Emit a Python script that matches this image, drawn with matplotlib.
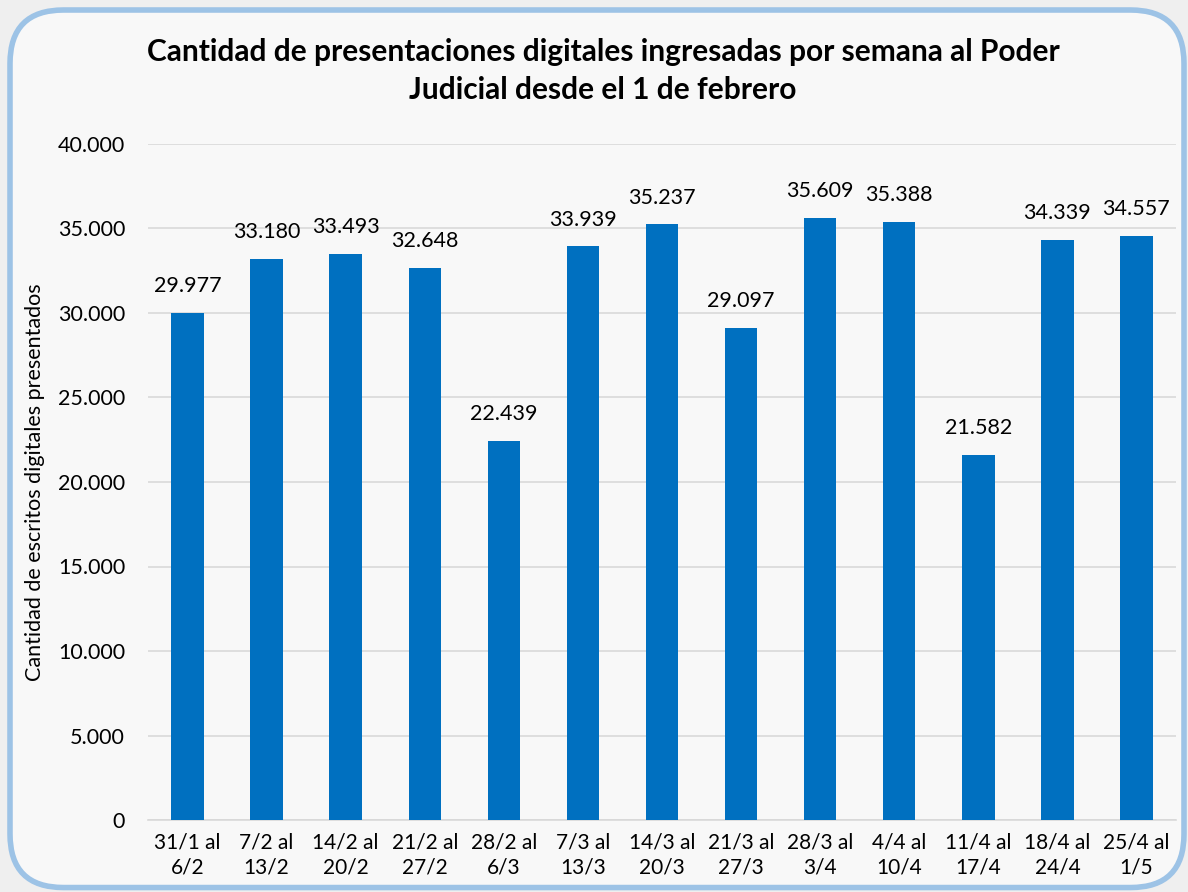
import matplotlib
matplotlib.use("Agg")
import matplotlib.pyplot as plt
from matplotlib.patches import FancyBboxPatch
from matplotlib.ticker import FuncFormatter

categories = ["31/1 al\n6/2", "7/2 al\n13/2", "14/2 al\n20/2", "21/2 al\n27/2", "28/2 al\n6/3",
              "7/3 al\n13/3", "14/3 al\n20/3", "21/3 al\n27/3", "28/3 al\n3/4", "4/4 al\n10/4",
              "11/4 al\n17/4", "18/4 al\n24/4", "25/4 al\n1/5"]
values = [29977, 33180, 33493, 32648, 22439, 33939, 35237, 29097, 35609, 35388, 21582, 34339, 34557]
yticks = [0, 5000, 10000, 15000, 20000, 25000, 30000, 35000, 40000]

plt.rcParams['font.family'] = ['Lato', 'DejaVu Sans']

def fmt(v):
    return f"{int(v):,}".replace(",", ".")

fig = plt.figure(figsize=(11.88, 8.92), dpi=100)
fig.patch.set_facecolor("#EFEFEF")

box = FancyBboxPatch((10/1188, 0.005), 1174/1188, 1 - 10/892 - 0.005,
                     boxstyle="round,pad=0,rounding_size=0.045",
                     transform=fig.transFigure, facecolor="#F8F8F8",
                     edgecolor="#9DC3E6", linewidth=4, zorder=-5,
                     mutation_aspect=1188/892)
fig.patches.append(box)

ax = fig.add_axes([148/1188, 1 - 820/892, (1176 - 148)/1188, (820 - 144)/892])
ax.set_zorder(2)
ax.set_facecolor("none")
x = list(range(len(values)))
bars = ax.bar(x, values, width=0.41, color="#0070C0", zorder=3)
for xi, v in zip(x, values):
    ax.text(xi, v + 1000, fmt(v), ha="center", va="bottom", fontsize=15.5, color="#000000")

ax.set_xlim(-0.5, len(values) - 0.5)
ax.set_ylim(0, 40000)
ax.set_yticks(yticks)
ax.yaxis.set_major_formatter(FuncFormatter(lambda v, p: fmt(v)))
ax.set_xticks(x)
ax.set_xticklabels(categories)
for lbl in ax.get_xticklabels():
    lbl.set_fontsize(15)
    lbl.set_linespacing(1.3)
ax.tick_params(axis="y", labelsize=15.5, length=0, pad=16.5)
ax.tick_params(axis="x", length=0, pad=9)
ax.grid(axis="y", color="#D9D9D9", linewidth=1.2, zorder=0)
for s in ["top", "right", "left"]:
    ax.spines[s].set_visible(False)
ax.spines["bottom"].set_color("#D9D9D9")
ax.spines["bottom"].set_linewidth(1.2)
ax.set_ylabel("Cantidad de escritos digitales presentados", fontsize=15.5, labelpad=9)

fig.text(603/1188, 1 - 71/892, "Cantidad de presentaciones digitales ingresadas por semana al Poder\nJudicial desde el 1 de febrero",
         ha="center", va="center", fontsize=21.5, fontweight="bold", linespacing=1.4)

fig.savefig("out.png", dpi=100, facecolor=fig.get_facecolor())
